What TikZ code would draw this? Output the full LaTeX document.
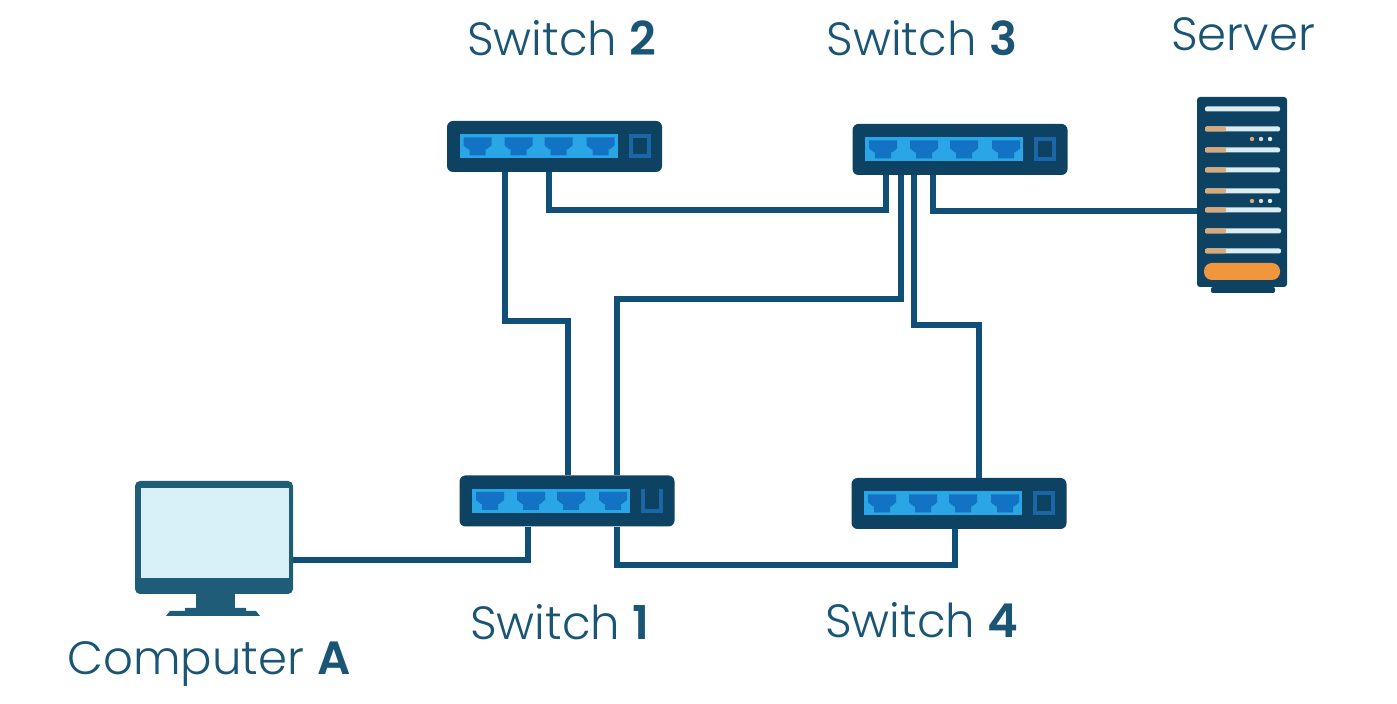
\documentclass[tikz,border=0pt]{standalone}
\usepackage{fontspec}
\setmainfont{Poppins}[UprightFont=* Light, BoldFont=* SemiBold]
\usetikzlibrary{calc}
\definecolor{navy}{HTML}{0D4263}
\definecolor{wire}{HTML}{0F4F78}
\definecolor{strip}{HTML}{2AA6E6}
\definecolor{jack}{HTML}{1272C4}
\definecolor{frame}{HTML}{1A66A6}
\definecolor{slate}{HTML}{1F5C78}
\definecolor{screen}{HTML}{D8F0F8}
\definecolor{amber}{HTML}{F0963C}
\definecolor{tan}{HTML}{D8A878}
\definecolor{pale}{HTML}{DCEDF2}
\definecolor{ink}{HTML}{1A5575}
\tikzstyle{switch} = [rectangle, rounded corners=3pt,
minimum width=107.5pt,
minimum height=25.5pt,
inner sep=0pt,
fill=navy]
\tikzstyle{tower} = [rectangle, rounded corners=1.5pt,
minimum width=45pt,
minimum height=95pt,
inner sep=0pt,
fill=navy]
\tikzstyle{monitor} = [rectangle, rounded corners=2.5pt,
minimum width=79pt,
minimum height=56.5pt,
inner sep=0pt,
fill=slate]
\tikzstyle{caption} = [text=ink, font=\fontsize{23.3}{26}\selectfont, inner sep=0pt]
\tikzstyle{link} = [wire, line width=3.1pt]
\newcommand{\portrow}[1]{
\begin{scope}[shift={(#1)}]
\fill[strip] (-95,-12) rectangle (63,12);
\foreach \px in {-77,-36,4,46}
  \fill[jack, shift={(\px,0)}] (-14,-9) -- (14,-9) -- (14,-1) -- (9,3) -- (8,3) -- (8,9) -- (-8,9) -- (-8,3) -- (-9,3) -- (-14,-1) -- cycle;
\end{scope}
}
\newcommand{\serverbar}[2]{
\fill[pale, rounded corners=1pt] (1205,#1-2.5) rectangle (#2,#1+2.5);
\fill[tan, rounded corners=1pt] (1205,#1-2.5) rectangle (1226,#1+2.5);
}
\begin{document}
\begin{tikzpicture}[x=0.5pt, y=-0.5pt, node distance=50pt]
\useasboundingbox (0,0) rectangle (1397,704);

\node (sw2) [switch] at (554.5,146.5) {};
\node (sw3) [switch, right of=sw2, xshift=152.75pt, yshift=-1.5pt] {};
\node (sw1) [switch] at (567,501) {};
\node (sw4) [switch, right of=sw1, xshift=146pt, yshift=-1.25pt] {};
\node (srv) [tower] at (1242,192) {};
\node (pc) [monitor] at (214,537.5) {};

% switch fronts
\portrow{sw1} \portrow{sw2} \portrow{sw3} \portrow{sw4}
\foreach \sw in {sw2,sw3,sw4}
  \draw[frame, line width=2pt, fill=navy, shift={(\sw)}] (76,-10) rectangle (94,10);
\draw[frame, line width=2pt, shift={(sw1)}] (76,-12) -- (76,10) -- (94,10) -- (94,-12);

% server
\fill[navy, rounded corners=1pt] (1211,287) rectangle (1275,293);
\fill[pale, rounded corners=1pt] (1205,106.5) rectangle (1280,111.5);
\foreach \rowy/\rowx in {129/1280,150/1280,170/1280,191/1280,210/1281,231/1281,251/1281}
  \serverbar{\rowy}{\rowx};
\foreach \doty in {139,201}
  \foreach \dotx/\dotc in {1252/tan,1261/pale!70!tan,1270/pale}
    \fill[\dotc] (\dotx,\doty) circle (1.1pt);
\fill[amber, rounded corners=4pt] (1204,263) rectangle (1280,280);

% computer
\fill[screen] (141,488) rectangle (289,578);
\fill[slate] (196,594) rectangle (235,609);
\fill[slate] (166,616) -- (170,611) -- (185,611) -- (185,608) -- (246,608) -- (246,611) -- (256,611) -- (260,616) -- cycle;

% ends of the connectors
\coordinate (sw2a) at ($(sw2.south west)+(58,0)$);
\coordinate (sw2b) at ($(sw2.south west)+(102,0)$);
\coordinate (sw3a) at ($(sw3.south west)+(34,0)$);
\coordinate (sw3b) at ($(sw3.south west)+(49,0)$);
\coordinate (sw3c) at ($(sw3.south west)+(62,0)$);
\coordinate (sw3d) at ($(sw3.south west)+(81,0)$);
\coordinate (sw1a) at ($(sw1.north west)+(109,0)$);
\coordinate (sw1b) at ($(sw1.north west)+(158,0)$);
\coordinate (sw1c) at ($(sw1.south west)+(69,0)$);
\coordinate (sw1d) at ($(sw1.south west)+(158,0)$);
\coordinate (sw4a) at ($(sw4.north west)+(128,0)$);
\coordinate (sw4b) at ($(sw4.south west)+(104,0)$);
\coordinate (srvport) at ($(srv.west)+(0,19)$);
\coordinate (pcport) at ($(pc.east)+(0,22.5)$);

\draw[link] (sw2a) -- ++(0,149) -| (sw1a);
\draw[link] (sw2b) -- ++(0,38) -| (sw3a);
\draw[link] (sw3b) -- ++(0,124) -| (sw1b);
\draw[link] (sw3c) -- ++(0,150) -| (sw4a);
\draw[link] (sw3d) |- (srvport);
\draw[link] (sw1c) |- (pcport);
\draw[link] (sw1d) -- ++(0,38) -| (sw4b);

% labels
\node (lab2) [caption] at (562,38) {Switch \textbf{2}};
\node (lab3) [caption] at (922,38) {Switch \textbf{3}};
\node (labs) [caption] at (1243,34) {Server};
\node (lab1) [caption] at (560,622) {Switch \textbf{1}};
\node (lab4) [caption] at (922,620) {Switch \textbf{4}};
\node (labc) [caption] at (209,664) {Computer \textbf{A}};

\end{tikzpicture}
\end{document}
